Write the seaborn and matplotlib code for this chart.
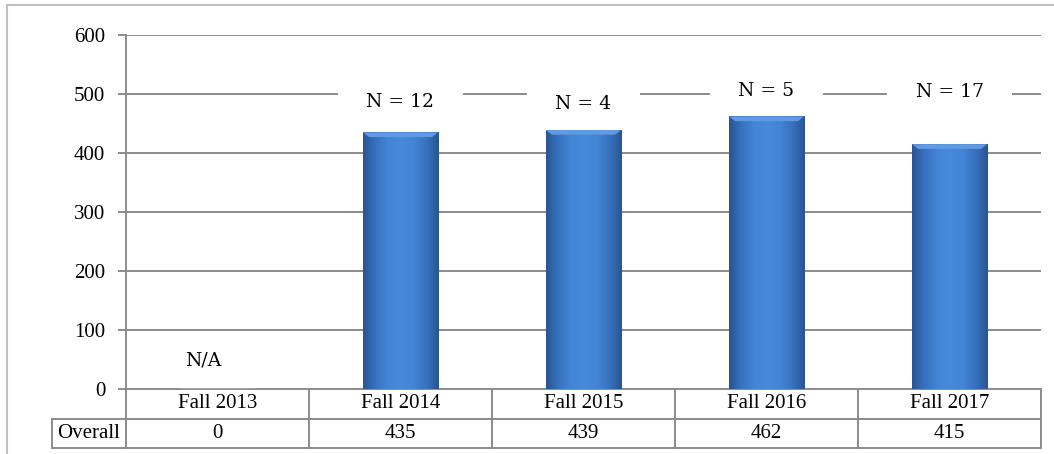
import numpy as np
import matplotlib
matplotlib.use("Agg")
import matplotlib.pyplot as plt
import matplotlib.patches as mpatches
from matplotlib.table import Table
from matplotlib.colors import LinearSegmentedColormap
import seaborn as sns

categories = ["Fall 2013", "Fall 2014", "Fall 2015", "Fall 2016", "Fall 2017"]
values = [0, 435, 439, 462, 415]
n_labels = ["N/A", "N = 12", "N = 4", "N = 5", "N = 17"]
row_label = "Overall"
yticks = [0, 100, 200, 300, 400, 500, 600]

sns.set_theme(style="white")
plt.rcParams["font.family"] = ["Liberation Serif", "DejaVu Serif"]
plt.rcParams["text.color"] = "black"
plt.rcParams["ytick.color"] = "black"

W, H = 1054, 454
fig = plt.figure(figsize=(W / 100, H / 100), dpi=100)
ax = fig.add_axes([126 / W, (H - 389) / H, 915 / W, 354 / H])

grid_c = "#8c8c8c"
sns.barplot(x=categories, y=values, width=0.41, color="#3f7fcf", ax=ax,
            zorder=3, saturation=1)

# gradient fill for bars
cmap = LinearSegmentedColormap.from_list(
    "bev", ["#2a5590", "#3872c0", "#4385d6", "#4789da", "#4385d6", "#3872c0", "#2a5590"])
grad = np.linspace(0, 1, 256).reshape(1, -1)
for p in ax.patches:
    h = p.get_height()
    if h <= 0:
        continue
    x0 = p.get_x()
    x1 = x0 + p.get_width()
    im = ax.imshow(grad, extent=[x0, x1, 0, h], aspect="auto", cmap=cmap,
                   zorder=3.1, interpolation="bilinear")
    im.set_clip_path(p)
    # top bevel highlight
    bw = x1 - x0
    ax.add_patch(mpatches.Polygon([(x0, h), (x1, h), (x1 - bw * 0.08, h - 8), (x0 + bw * 0.08, h - 8)],
                                  closed=True, facecolor="#5f9ae2", edgecolor="none", zorder=3.2))
    p.set_edgecolor("#b8b8b8")
    p.set_linewidth(0.6)

ax.set_xlim(-0.5, len(categories) - 0.5)
ax.set_ylim(0, 600)
ax.set_yticks(yticks)
ax.set_yticklabels([str(t) for t in yticks], fontsize=15, color="#000000")
ax.set_xticks([])
ax.set_xlabel("")
ax.set_ylabel("")
ax.grid(False)
for t in yticks[1:]:
    ax.axhline(t, color=grid_c, lw=1.4, zorder=1)
for s in ["top", "right", "bottom"]:
    ax.spines[s].set_visible(False)
ax.spines["left"].set_color(grid_c)
ax.spines["left"].set_linewidth(1.4)
ax.tick_params(axis="y", length=6, width=1.4, color=grid_c, labelcolor="black",
               direction="out", pad=9, left=True)

# N annotations
label_pos = [(-0.08, 48), (0.0, 486), (0.0, 483), (0.0, 505), (0.0, 503)]
for i, (lab, (dx, yv)) in enumerate(zip(n_labels, label_pos)):
    kw = dict(ha="center", va="center", fontsize=13.5, color="black",
              family=["DejaVu Serif"], zorder=2.5)
    if i > 0:
        kw["bbox"] = dict(boxstyle="square,pad=1.5", facecolor="white", edgecolor="none")
    ax.text(i + dx, yv, lab, **kw)

# data table
rl_w = 74 / 915
th = 59 / 354
tbl = Table(ax, bbox=[0, -th, 1, th])
for j, c in enumerate(categories):
    tbl.add_cell(0, j, width=0.2, height=0.5, text=c, loc="center")
for j, v in enumerate(values):
    tbl.add_cell(1, j, width=0.2, height=0.5, text=str(v), loc="center")
tbl.add_cell(1, -1, width=rl_w, height=0.5, text=row_label, loc="center")
tbl.auto_set_font_size(False)
for key, cell in tbl.get_celld().items():
    cell.set_edgecolor(grid_c)
    cell.set_linewidth(1.4)
    cell.get_text().set_fontsize(15)
    cell.get_text().set_color("black")
    cell.PAD = 0.02
tbl.set_clip_on(False)
ax.add_table(tbl)

# outer chart border
fig.add_artist(mpatches.Rectangle((7 / W, -0.05), 1.1, (H - 5) / H + 0.05,
                                  transform=fig.transFigure, facecolor="none",
                                  edgecolor="#c0c0c0", lw=1.5, clip_on=False))

fig.savefig("out.png", dpi=100, facecolor="white")
